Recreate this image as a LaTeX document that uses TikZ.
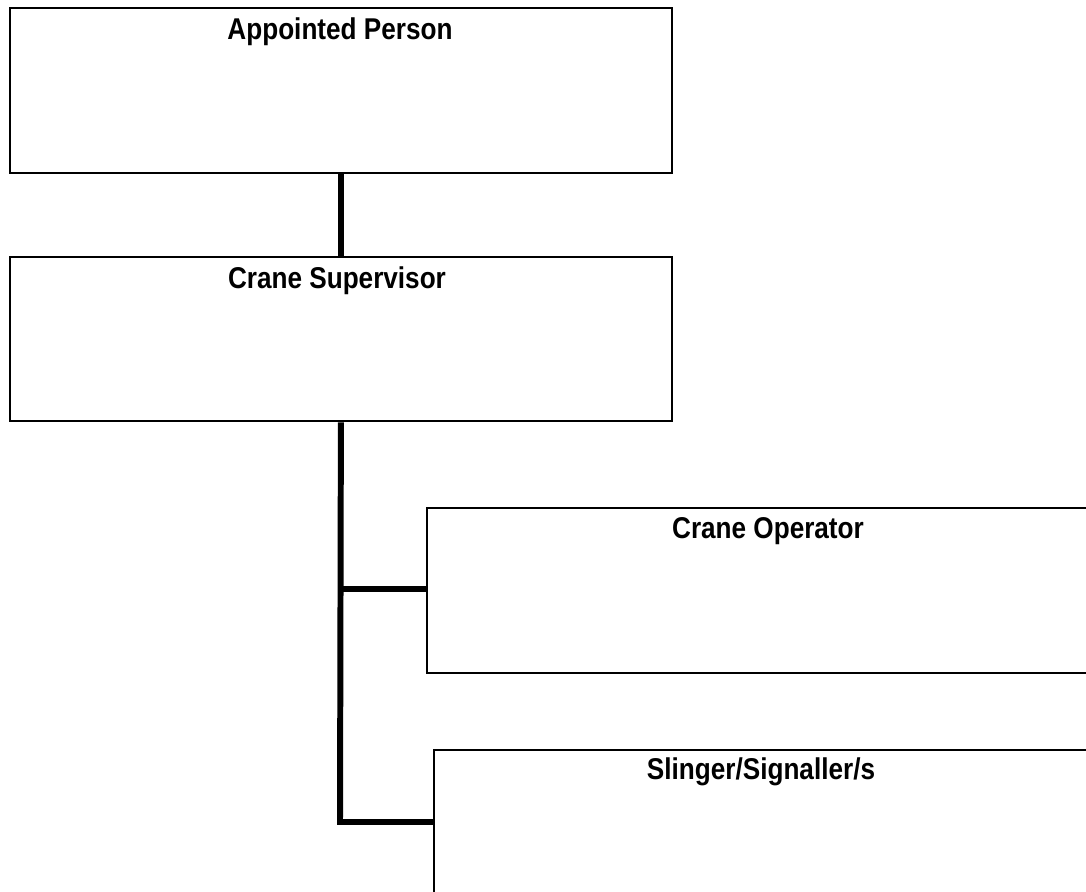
\documentclass[tikz,border=0pt]{standalone}
\usepackage{fontspec}
\setmainfont{Liberation Sans}
\begin{document}
\begin{tikzpicture}[x=0.02cm,y=-0.02cm,
    box/.style={draw, line width=1.1pt, anchor=north west, inner sep=0pt},
    title/.style={font=\bfseries\fontsize{17.1}{20}\selectfont, xscale=0.87, anchor=north, inner sep=0pt},
    link/.style={line width=3.4pt}]
  \clip (0,0) rectangle (1086,892);
  % boxes
  \node[box, minimum width=13.24cm, minimum height=3.3cm] (appointed) at (9,7) {};
  \node[box, minimum width=13.24cm, minimum height=3.29cm] (supervisor) at (9,256) {};
  \node[box, minimum width=14cm, minimum height=3.3cm] (operator) at (426,507) {};
  \node[box, minimum width=14cm, minimum height=4cm] (slinger) at (433,749) {};
  % titles
  \node[title] (appointedtxt) at (340,17) {Appointed Person};
  \node[title] (supervisortxt) at (337,266) {Crane Supervisor};
  \node[title] (operatortxt) at (768,517) {Crane Operator};
  \node[title] (slingertxt) at (761,757.5) {Slinger/Signaller/s};
  % links
  \coordinate (opjoin) at (340,589);
  \coordinate (sljoin) at (340,822);
  \draw[link] (appointed.south) -- (supervisor.north);
  \draw[link] (supervisor.south) -- (sljoin) -- (sljoin -| slinger.west);
  \draw[link] (opjoin) -- (opjoin -| operator.west);
\end{tikzpicture}
\end{document}
